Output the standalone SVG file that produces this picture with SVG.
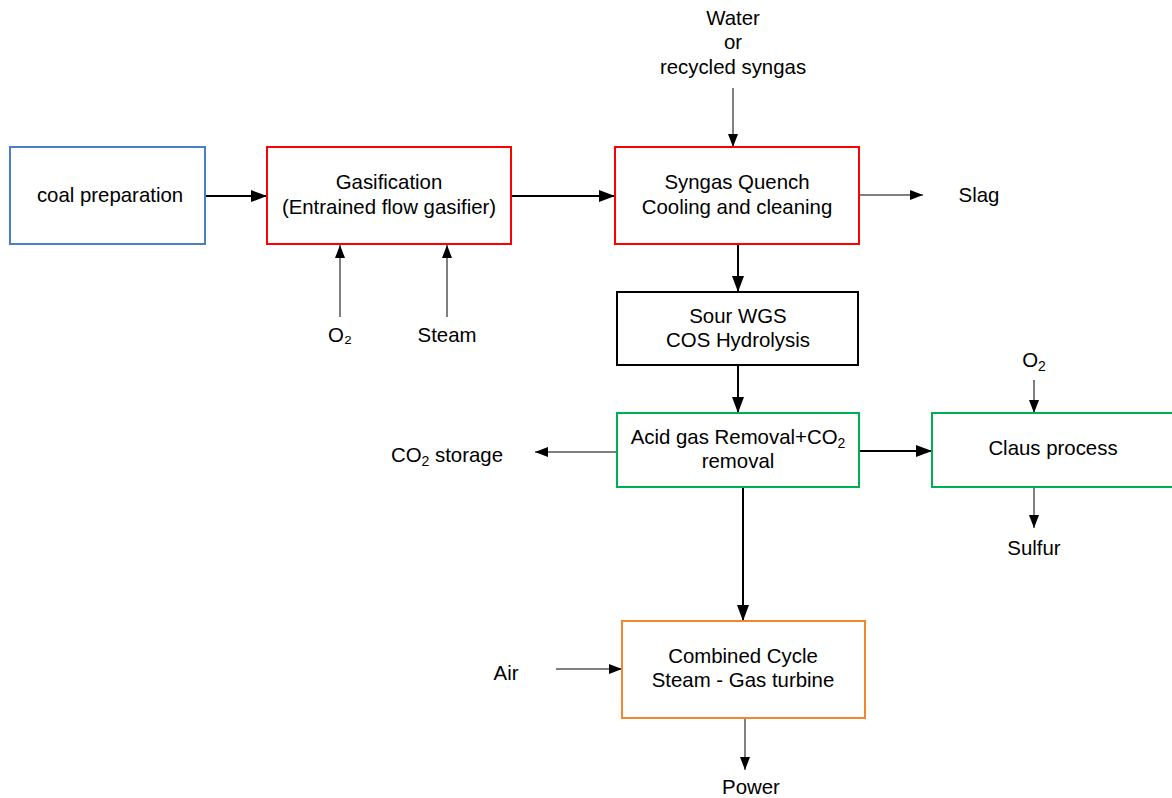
<svg xmlns="http://www.w3.org/2000/svg" width="1172" height="798" viewBox="0 0 1172 798">
<defs>
<style>
text{font-family:"Liberation Sans",Arial,sans-serif;font-size:20.4px;fill:#000;text-anchor:middle}
.box{fill:#fff;stroke-width:2}
.thick{stroke:#000;stroke-width:2;fill:none}
.thin{stroke:#000;stroke-width:1;fill:none}
.sub{font-size:14px}
</style>
<marker id="ah" markerUnits="userSpaceOnUse" markerWidth="16" markerHeight="12" refX="16" refY="6" orient="auto"><path d="M0,0 L16,6 L0,12 Z" fill="#000"/></marker>
<marker id="as" markerUnits="userSpaceOnUse" markerWidth="13" markerHeight="10" refX="13" refY="5" orient="auto"><path d="M0,0 L13,5 L0,10 Z" fill="#000"/></marker>
</defs>
<rect width="1172" height="798" fill="#fff"/>
<g id="connectors">
<line class="thick" x1="205" y1="196" x2="267" y2="196" marker-end="url(#ah)"/>
<line class="thick" x1="511" y1="196" x2="615" y2="196" marker-end="url(#ah)"/>
<line class="thin" x1="340" y1="317" x2="340" y2="245" marker-end="url(#as)"/>
<line class="thin" x1="447" y1="317" x2="447" y2="245" marker-end="url(#as)"/>
<line class="thin" x1="733" y1="88" x2="733" y2="147" marker-end="url(#as)"/>
<line class="thin" x1="859" y1="195" x2="923" y2="195" marker-end="url(#as)"/>
<line class="thick" x1="738" y1="244" x2="738" y2="292" marker-end="url(#ah)"/>
<line class="thick" x1="738" y1="365" x2="738" y2="413" marker-end="url(#ah)"/>
<line class="thin" x1="617" y1="452" x2="535" y2="452" marker-end="url(#as)"/>
<line class="thick" x1="859" y1="451" x2="932" y2="451" marker-end="url(#ah)"/>
<line class="thin" x1="1034" y1="380" x2="1034" y2="413" marker-end="url(#as)"/>
<line class="thin" x1="1034" y1="487" x2="1034" y2="528" marker-end="url(#as)"/>
<line class="thick" x1="743" y1="487" x2="743" y2="621" marker-end="url(#ah)"/>
<line class="thin" x1="556" y1="669" x2="622" y2="669" marker-end="url(#as)"/>
<line class="thin" x1="745" y1="718" x2="745" y2="770" marker-end="url(#as)"/>
</g>
<g id="coal">
<rect class="box" x="10" y="147" width="195" height="97" stroke="#4A7EC8"/>
<text x="110" y="202">coal preparation</text>
</g>
<g id="gasification">
<rect class="box" x="267" y="147" width="244" height="97" stroke="#FF0000"/>
<text x="389" y="189">Gasification</text>
<text x="389" y="214">(Entrained flow gasifier)</text>
</g>
<g id="quench">
<rect class="box" x="615" y="147" width="244" height="97" stroke="#FF0000"/>
<text x="737" y="189">Syngas Quench</text>
<text x="737" y="214">Cooling and cleaning</text>
</g>
<g id="wgs">
<rect class="box" x="617" y="292" width="241" height="73" stroke="#000"/>
<text x="738" y="323">Sour WGS</text>
<text x="738" y="347">COS Hydrolysis</text>
</g>
<g id="agr">
<rect class="box" x="617" y="413" width="242" height="74" stroke="#00B050"/>
<text x="738" y="444">Acid gas Removal+CO<tspan class="sub" dy="4">2</tspan></text>
<text x="738" y="468">removal</text>
</g>
<g id="claus">
<rect class="box" x="932" y="413" width="245" height="74" stroke="#00B050"/>
<text x="1053" y="455">Claus process</text>
</g>
<g id="combined">
<rect class="box" x="622" y="621" width="243" height="97" stroke="#F5872B"/>
<text x="743" y="663">Combined Cycle</text>
<text x="743" y="687">Steam - Gas turbine</text>
</g>
<g id="labels">
<text x="733" y="25">Water</text>
<text x="733" y="49">or</text>
<text x="733" y="74">recycled syngas</text>
<text x="979" y="202">Slag</text>
<text x="340" y="342">O₂</text>
<text x="447" y="342">Steam</text>
<text x="447" y="462">CO<tspan class="sub" dy="4">2</tspan><tspan dy="-4"> storage</tspan></text>
<text x="1034" y="367">O<tspan class="sub" dy="4">2</tspan></text>
<text x="1034" y="555">Sulfur</text>
<text x="506" y="680">Air</text>
<text x="751" y="794">Power</text>
</g>
</svg>
